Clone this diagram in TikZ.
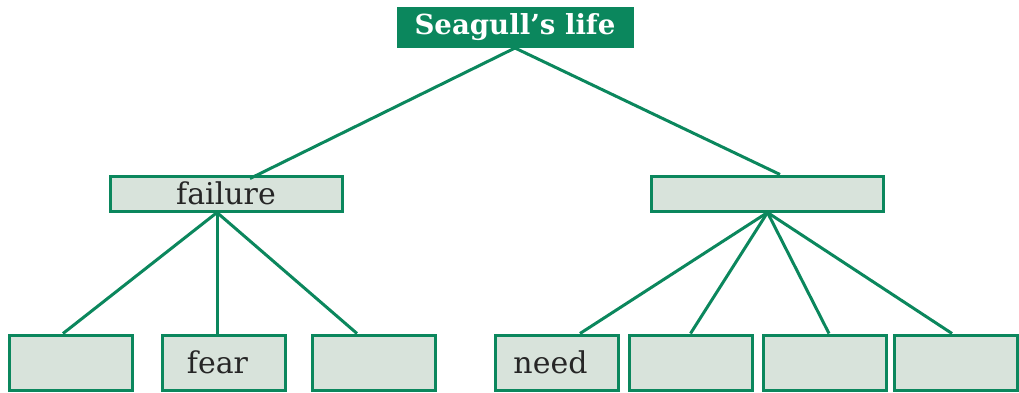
\documentclass[tikz,border=0pt]{standalone}
\usepackage{fontspec}
\setmainfont{DejaVu Serif}
\definecolor{gullgreen}{HTML}{0B875D}
\definecolor{gullfill}{HTML}{D8E3DB}

\begin{document}
\begin{tikzpicture}
	[x=0.5pt,y=-0.5pt,line width=1.5pt,draw=gullgreen,
	every node/.style={draw=gullgreen,fill=gullfill,text=black!85,inner sep=0pt,font=\fontsize{15}{17}\selectfont},
	titlebox/.style={fill=gullgreen,text=white,minimum width=117pt,minimum height=19pt,font=\fontsize{13.8}{16}\selectfont\bfseries},
	midbox/.style={minimum width=116pt,minimum height=17.5pt},
	leafbox/.style={minimum width=61.5pt,minimum height=27.5pt}]
	\useasboundingbox (0,0) rectangle (1019,392);
	
	\node[titlebox] (life) at (515,27.5) {Seagull's life};
	\node[midbox] (fail) at (226,193.5) {failure};
	\node[midbox] (other) at (767.5,193.5) {};
	
	\node[leafbox] (f1) at (70.5,362.5) {};
	\node[leafbox] (f2) at (223.5,362.5) {fear\hspace*{6pt}};
	\node[leafbox] (f3) at (373.5,362.5) {};
	\node[leafbox] (o1) at (556.5,362.5) {need\hspace*{6pt}};
	\node[leafbox] (o2) at (690.5,362.5) {};
	\node[leafbox] (o3) at (824.5,362.5) {};
	\node[leafbox] (o4) at (956,362.5) {};
	
	\draw (life.south) -- ([xshift=12pt,yshift=-2pt]fail.north);
	\draw (life.south) -- ([xshift=6.25pt]other.north);
	
	\foreach \to/\dx in {f1/-3.75,f2/-3.25,f3/-8.25}
	\draw ([xshift=-4.5pt]fail.south) -- ([xshift=\dx pt]\to.north);
	\foreach \to/\dx in {o1/11.75,o2/0,o3/2.25,o4/-2}
	\draw (other.south) -- ([xshift=\dx pt]\to.north);
	
\end{tikzpicture}
\end{document}
